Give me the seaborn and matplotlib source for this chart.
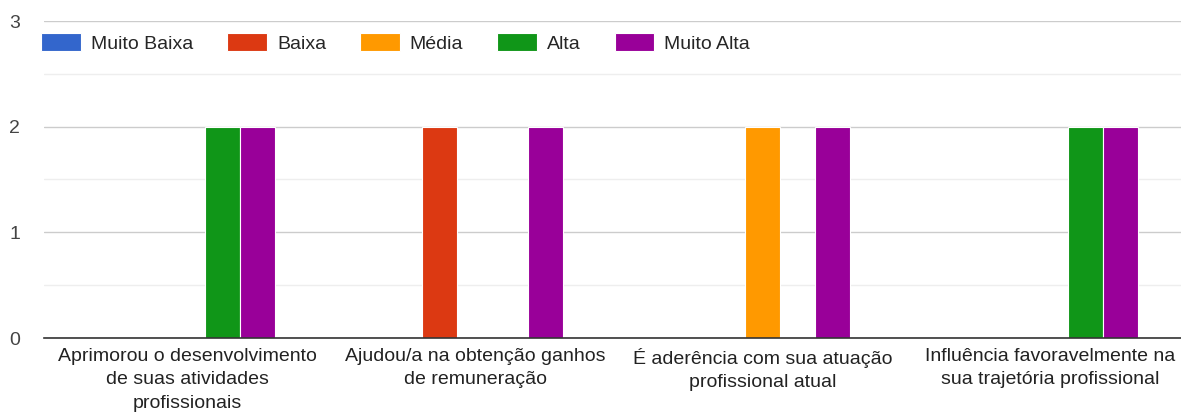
import matplotlib
matplotlib.use("Agg")
import matplotlib.pyplot as plt
import seaborn as sns
import pandas as pd

categorias = [
    "Aprimorou o desenvolvimento\nde suas atividades\nprofissionais",
    "Ajudou/a na obtenção ganhos\nde remuneração",
    "É aderência com sua atuação\nprofissional atual",
    "Influência favoravelmente na\nsua trajetória profissional",
]
niveis = ["Muito Baixa", "Baixa", "Média", "Alta", "Muito Alta"]
muito_baixa = [0, 0, 0, 0]
baixa = [0, 2, 0, 0]
media = [0, 0, 2, 0]
alta = [2, 0, 0, 2]
muito_alta = [2, 2, 2, 2]
cores = ["#3366CC", "#DC3912", "#FF9900", "#109618", "#990099"]

rows = []
for nivel, vals in zip(niveis, [muito_baixa, baixa, media, alta, muito_alta]):
    for c, v in zip(categorias, vals):
        rows.append({"categoria": c, "nivel": nivel, "valor": v})
df = pd.DataFrame(rows)

sns.set_style("white")
plt.rcParams["font.family"] = ["Liberation Sans", "DejaVu Sans"]

fig = plt.figure(figsize=(11.81, 4.15), dpi=100)
ax = fig.add_axes([43.75 / 1181, (415 - 338) / 415, 1150 / 1181, (338 - 21) / 415])

sns.barplot(data=df, x="categoria", y="valor", hue="nivel", order=categorias,
            hue_order=niveis, palette=cores, width=0.61, edgecolor="white",
            linewidth=0.8, saturation=1, ax=ax)

ax.set_ylim(0, 3)
ax.set_yticks([0, 1, 2, 3])
ax.set_yticks([0.5, 1.5, 2.5], minor=True)
ax.grid(axis="y", which="major", color="#cccccc", linewidth=1)
ax.grid(axis="y", which="minor", color="#eeeeee", linewidth=1)
ax.set_axisbelow(True)
for s in ["top", "right", "left"]:
    ax.spines[s].set_visible(False)
ax.spines["bottom"].set_color("#333333")
ax.spines["bottom"].set_linewidth(1.2)
ax.spines["bottom"].set_zorder(5)
ax.tick_params(axis="both", length=0, labelsize=14, colors="#222222")
ax.tick_params(axis="y", pad=17, colors="#444444")
ax.tick_params(axis="x", pad=7)
for lab in ax.get_xticklabels():
    lab.set_linespacing(1.5)
ax.set_xlabel("")
ax.set_ylabel("")

ax.legend(loc="center left", bbox_to_anchor=(-0.002, (338 - 43) / 317), ncol=5,
          frameon=False, fontsize=14, handlelength=2.05, handleheight=1.0,
          handletextpad=0.5, columnspacing=1.75, borderaxespad=0, borderpad=0)

fig.savefig("out.png", dpi=100)
